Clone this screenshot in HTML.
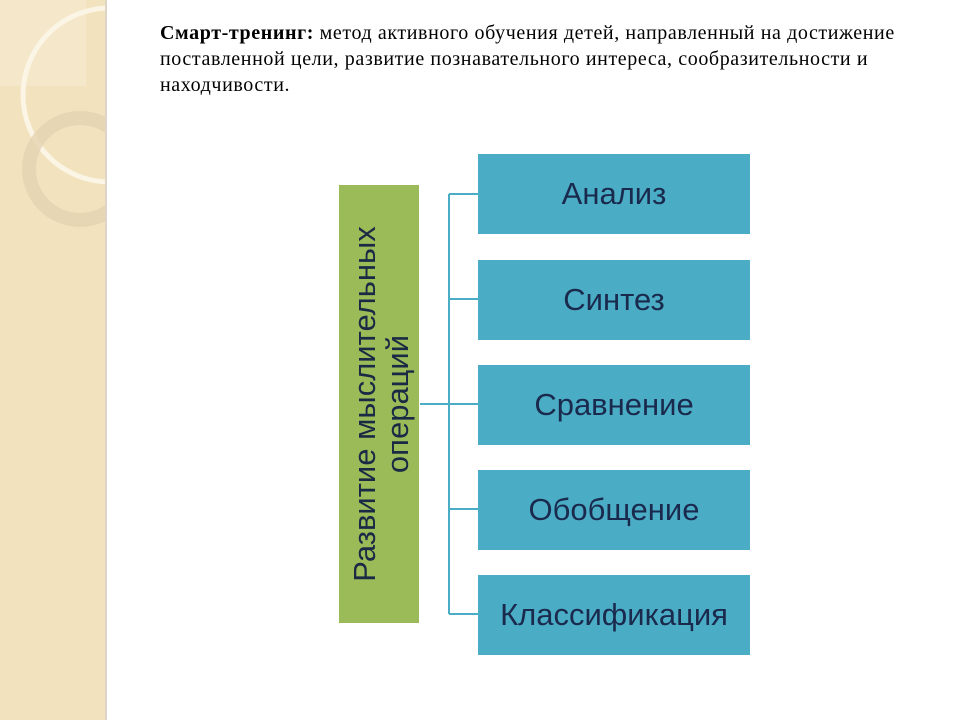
<!DOCTYPE html>
<html><head><meta charset="utf-8"><style>
body{margin:0;width:960px;height:720px;background:#fff;position:relative;overflow:hidden;font-family:"Liberation Sans",sans-serif}
.side{position:absolute;left:0;top:0;width:105px;height:720px;background:#f2e2bd;border-right:2px solid #ddd6c8}
.t{position:absolute;left:160px;top:20px;width:790px;white-space:nowrap;font-family:"Liberation Serif",serif;font-size:20px;letter-spacing:0.6px;line-height:26px;color:#000}
.g{position:absolute;left:339px;top:185px;width:80px;height:438px;background:#9bbb59}
.gt{position:absolute;left:381px;top:404px;transform:translate(-50%,-50%) rotate(-90deg);white-space:nowrap;text-align:center;font-size:31px;line-height:33px;color:#1a2a44}
.b{position:absolute;left:478px;width:272px;height:80px;background:#4bacc6;color:#1a2a4d;font-size:31px;display:flex;align-items:center;justify-content:center}
</style></head><body>
<div class="side"><svg width="105" height="720">
<rect x="0" y="0" width="86" height="86" fill="#f7ead0" opacity=".7"/>
<circle cx="110" cy="95" r="87" fill="none" stroke="#fbf5e6" stroke-width="5"/>
<circle cx="80" cy="169" r="51" fill="none" stroke="#e3d3b0" stroke-width="14" opacity=".8"/>
</svg></div>
<div class="t"><b>Смарт-тренинг:</b> метод активного обучения детей, направленный на достижение<br>поставленной цели, развитие познавательного интереса, сообразительности и<br>находчивости.</div>
<svg style="position:absolute;left:0;top:0" width="960" height="720">
<g stroke="#4bacc6" stroke-width="2" fill="none">
<path d="M420 404H449M449 194V614M449 194H478M449 299H478M449 404H478M449 509H478M449 614H478"/>
</g></svg>
<div class="g"></div>
<div class="gt">Развитие мыслительных<br>операций</div>
<div class="b" style="top:154px">Анализ</div>
<div class="b" style="top:260px">Синтез</div>
<div class="b" style="top:365px">Сравнение</div>
<div class="b" style="top:470px">Обобщение</div>
<div class="b" style="top:575px">Классификация</div>
</body></html>
